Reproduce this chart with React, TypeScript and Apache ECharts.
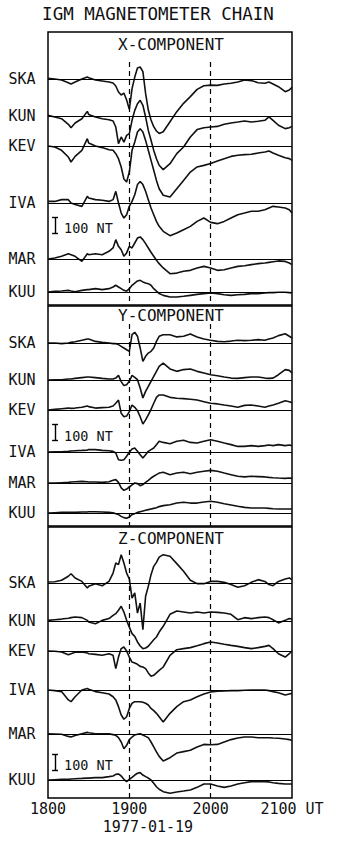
import { useEffect, useRef } from "react";
import * as echarts from "echarts";

// Time samples, minutes after 1800 UT
const minutes = [0,5,10,15,17,20,25,29,30,35,40,45,48,50,52,54,56,58,60,62,64,66,68,70,72,74,76,78,80,82,85,90,95,100,105,110,115,120,125,130,135,140,145,150,155,160,163,166,170,175,178,180];

const tickLabels = ["1800", "1900", "2000", "2100 UT"];
const stations = ["SKA", "KUN", "KEV", "IVA", "MAR", "KUU"];
const componentTitles = ["X-COMPONENT", "Y-COMPONENT", "Z-COMPONENT"];
const chartTitle = "IGM MAGNETOMETER CHAIN";
const dateLabel = "1977-01-19";
const scaleLabel = "100 NT";
const scaleNT = 100;

// Deviations (nT) — X component
const xSKA = [4,0,-6,-23,-31,-19,0,12,8,-6,-12,-19,-25,-44,-81,-100,-88,-131,-190,-60,12,69,75,46,-90,-194,-256,-298,-325,-340,-330,-267,-204,-152,-110,-65,-42,-38,-40,-31,-27,-19,-6,-10,-23,-27,-19,-31,-48,-79,-69,-52];
const xKUN = [4,-6,-17,-52,-73,-44,-17,29,10,-6,-17,-23,-31,-69,-173,-131,-163,-121,-110,-27,35,77,98,67,-6,-90,-152,-215,-267,-308,-335,-298,-235,-194,-131,-85,-73,-69,-65,-52,-44,-38,-31,-38,-33,-27,-6,-27,-58,-79,-73,-65];
const xKEV = [0,-6,-27,-69,-100,-65,-27,46,19,0,-10,-23,-27,-48,-79,-131,-206,-225,-163,-27,25,88,108,88,35,-27,-90,-152,-215,-267,-308,-319,-267,-215,-163,-131,-121,-110,-94,-79,-65,-58,-54,-52,-44,-38,-31,-44,-58,-73,-79,-90];
const xIVA = [10,10,21,21,0,-10,-21,42,31,21,17,10,21,73,0,-63,-94,-73,-21,10,52,115,135,115,73,21,-31,-73,-115,-146,-177,-204,-188,-167,-146,-115,-94,-121,-129,-115,-94,-73,-63,-52,-52,-42,-31,-21,-25,-31,-42,-63];
const xMAR = [0,6,17,33,27,17,-15,33,27,33,27,48,69,121,79,58,17,38,79,69,100,131,138,121,96,69,42,17,-8,-29,-56,-92,-88,-77,-71,-56,-46,-56,-71,-67,-56,-46,-42,-35,-29,-25,-21,-17,-12,-15,-25,-35];
const xKUU = [0,4,6,10,6,2,10,15,15,21,15,21,31,42,31,21,10,6,21,42,56,69,73,63,56,52,42,21,6,-10,-21,-31,-31,-27,-21,-15,-10,-6,-10,-17,-21,-17,-15,-10,-10,-6,-4,-4,-2,-2,-4,-6];

// Y component
const ySKA = [0,0,-4,0,4,8,17,25,25,10,4,0,-4,-4,-10,-21,-31,-42,-52,52,67,42,-31,-115,-83,-63,-52,-31,10,42,52,52,38,42,56,38,25,17,10,8,12,17,15,17,21,17,25,31,46,58,42,31];
const yKUN = [0,2,2,6,6,10,15,19,19,15,10,6,6,12,29,-10,-35,-29,-8,29,17,2,-50,-112,-71,-40,-8,23,54,85,106,69,54,65,69,54,44,33,27,19,12,10,15,19,19,12,10,12,33,65,60,44];
const yKEV = [0,4,8,12,10,12,17,25,21,12,15,17,25,42,62,-21,-42,-38,-10,31,17,-4,-42,-88,-62,-31,4,42,79,94,94,79,73,71,67,62,52,42,38,31,25,17,29,31,25,17,25,31,42,58,52,46];
const yIVA = [0,2,2,4,6,8,10,12,15,15,10,8,4,-6,-48,-52,-48,-27,-2,19,25,4,-17,-38,-17,4,15,25,46,67,60,52,67,73,60,56,67,77,67,56,46,35,35,40,35,40,44,40,46,40,44,40];
const yMAR = [0,0,2,4,6,8,10,8,6,6,4,8,17,21,4,-31,-46,-38,-25,-12,0,-4,-17,-10,4,17,31,42,52,62,67,52,62,67,58,67,73,79,73,62,52,42,38,42,40,38,35,33,31,29,31,29];
const yKUU = [0,2,4,4,4,4,6,6,8,8,6,4,2,-4,-10,-21,-29,-33,-25,-10,-4,4,8,12,17,21,25,29,33,40,46,52,62,67,62,62,69,73,67,58,50,42,35,31,31,31,29,27,25,25,25,25];

// Z component
const zSKA = [6,8,17,42,58,31,10,-31,-21,-4,-17,10,62,125,115,177,125,62,25,-94,-62,-188,-125,-292,-83,-21,52,104,129,162,177,167,121,73,17,-4,-4,10,10,4,-10,-27,-17,4,21,10,-10,-17,10,25,31,21];
const zKUN = [4,8,12,17,21,25,21,4,-6,-17,4,15,35,46,67,92,56,4,-38,-79,-96,-131,-156,-173,-169,-158,-137,-117,-100,-69,-33,42,62,56,50,56,50,56,54,50,42,8,21,15,21,25,21,8,-12,4,15,12];
const zKEV = [0,-2,-6,-23,-17,-8,-6,-12,-17,-21,-27,-17,-27,-110,-38,15,25,0,-38,-69,-75,-83,-96,-100,-110,-137,-158,-152,-137,-121,-100,-27,8,15,21,33,46,56,50,42,35,29,21,15,21,29,35,15,-17,-38,-17,0];
const zIVA = [0,-4,-10,-62,-73,-42,0,10,4,-10,-17,-25,-42,-62,-104,-156,-183,-167,-115,-83,-73,-73,-73,-77,-83,-94,-115,-129,-146,-167,-200,-146,-104,-73,-62,-42,-25,-12,-8,-6,-4,-4,-2,0,0,0,-4,-10,-17,-31,-25,-21];
const zMAR = [2,0,-2,-15,-19,-10,2,10,8,2,2,2,-4,-8,-23,-50,-92,-71,-35,-19,-6,-2,2,-6,-15,-23,-50,-81,-112,-140,-169,-148,-119,-110,-102,-81,-65,-67,-65,-50,-35,-25,-19,-19,-23,-23,-23,-25,-27,-31,-35,-40];
const zKUU = [0,2,4,4,6,8,10,12,12,15,15,21,25,35,38,25,4,-10,4,17,31,42,46,31,21,12,0,-21,-42,-58,-73,-83,-75,-69,-62,-46,-25,-25,-37,-46,-37,-25,-17,-10,-10,-10,-12,-17,-21,-25,-25,-25];

const componentData = [
  [xSKA, xKUN, xKEV, xIVA, xMAR, xKUU],
  [ySKA, yKUN, yKEV, yIVA, yMAR, yKUU],
  [zSKA, zKUN, zKEV, zIVA, zMAR, zKUU],
];

// ---- layout (pixels) ----
const PX_PER_100NT = 16;
const NT_PER_PX = 100 / PX_PER_100NT;
const GRID_LEFT = 48;
const GRID_WIDTH = 244;
const FONT = '"DejaVu Sans Mono", monospace';
const INK = "#111";
const panelLayout = [
  { top: 32, height: 273, titleY: 44, dashTop: 62, baselines: [79, 116, 146, 203, 259, 292], scaleBottom: 233, scaleTextY: 228 },
  { top: 306, height: 220, titleY: 315, dashTop: 324, baselines: [343, 380, 410, 452, 483, 513], scaleBottom: 440, scaleTextY: 436 },
  { top: 527, height: 271, titleY: 538, dashTop: 550, baselines: [583, 621, 651, 690, 734, 780], scaleBottom: 770, scaleTextY: 765 },
];

export default function App() {
  const ref = useRef<HTMLDivElement>(null);
  useEffect(() => {
    if (!ref.current) return;
    const chart = echarts.init(ref.current, null, { renderer: "svg" });

    const grids: any[] = [];
    const xAxes: any[] = [];
    const yAxes: any[] = [];
    const series: any[] = [];
    const graphics: any[] = [];

    graphics.push({
      type: "text", x: 158, y: 14,
      style: { text: chartTitle, fontFamily: FONT, fontSize: 17.5, fill: INK, align: "center", verticalAlign: "middle" },
    });
    graphics.push({
      type: "text", x: 148, y: 827,
      style: { text: dateLabel, fontFamily: FONT, fontSize: 15, fill: INK, align: "center", verticalAlign: "middle" },
    });

    panelLayout.forEach((p, gi) => {
      const bottomPx = p.top + p.height;
      const toVal = (yPx: number) => (bottomPx - yPx) * NT_PER_PX;
      grids.push({
        left: GRID_LEFT, width: GRID_WIDTH, top: p.top, height: p.height,
        show: true, borderColor: "#000", borderWidth: 1.5, backgroundColor: "transparent",
      });
      xAxes.push({
        type: "value", gridIndex: gi, min: 0, max: 180, interval: 60,
        axisLine: { show: false }, axisTick: { show: false }, splitLine: { show: false },
        axisLabel: {
          show: gi === 2, margin: 3, fontFamily: FONT, fontSize: 15, color: INK,
          showMinLabel: true, showMaxLabel: true,
          formatter: (v: number) => tickLabels[Math.round(v / 60)] ?? "",
        },
      });
      yAxes.push({ type: "value", gridIndex: gi, min: 0, max: p.height * NT_PER_PX, show: false });

      graphics.push({
        type: "text", x: 171, y: p.titleY,
        style: { text: componentTitles[gi], fontFamily: FONT, fontSize: 16, fill: INK, align: "center", verticalAlign: "middle" },
      });
      graphics.push({
        type: "text", x: 64, y: p.scaleTextY,
        style: { text: scaleLabel, fontFamily: FONT, fontSize: 13.5, fill: INK, align: "left", verticalAlign: "middle" },
      });

      const scaleLo = toVal(p.scaleBottom);
      const scaleHi = scaleLo + scaleNT;
      const solid = { type: "solid", width: 1.4, color: "#000" };
      const dashed = { type: [5, 4], width: 1.2, color: "#000" };
      const guideLines: any[] = [
        [{ coord: [60, toVal(p.dashTop)], lineStyle: dashed }, { coord: [60, 0] }],
        [{ coord: [120, toVal(p.dashTop)], lineStyle: dashed }, { coord: [120, 0] }],
        [{ coord: [5.2, scaleLo], lineStyle: solid }, { coord: [5.2, scaleHi] }],
        [{ coord: [3.0, scaleLo], lineStyle: solid }, { coord: [7.4, scaleLo] }],
        [{ coord: [3.0, scaleHi], lineStyle: solid }, { coord: [7.4, scaleHi] }],
      ];

      stations.forEach((name, si) => {
        const baseY = p.baselines[si];
        const offset = toVal(baseY);
        const vals = componentData[gi][si];
        graphics.push({
          type: "text", x: 22, y: baseY,
          style: { text: name, fontFamily: FONT, fontSize: 15, fill: INK, align: "center", verticalAlign: "middle" },
        });
        const mlData: any[] = [{ yAxis: offset, lineStyle: { type: "solid", width: 1, color: "#000" } }];
        if (si === 0) mlData.push(...guideLines);
        series.push({
          name: `${componentTitles[gi]} ${name}`,
          type: "line",
          xAxisIndex: gi, yAxisIndex: gi,
          data: minutes.map((m, k) => [m, offset + vals[k]]),
          showSymbol: false, symbol: "none", smooth: false,
          lineStyle: { color: INK, width: 1.6 },
          z: 3,
          markLine: {
            silent: true, symbol: "none", label: { show: false },
            animation: false,
            data: mlData,
          },
        });
      });
    });

    chart.setOption({
      animation: false,
      backgroundColor: "#fff",
      grid: grids,
      xAxis: xAxes,
      yAxis: yAxes,
      series,
      graphic: graphics,
    });
    return () => chart.dispose();
  }, []);
  return <div ref={ref} style={{ position: "absolute", left: 0, top: 0, width: 344, height: 845, background: "#fff" }} />;
}
